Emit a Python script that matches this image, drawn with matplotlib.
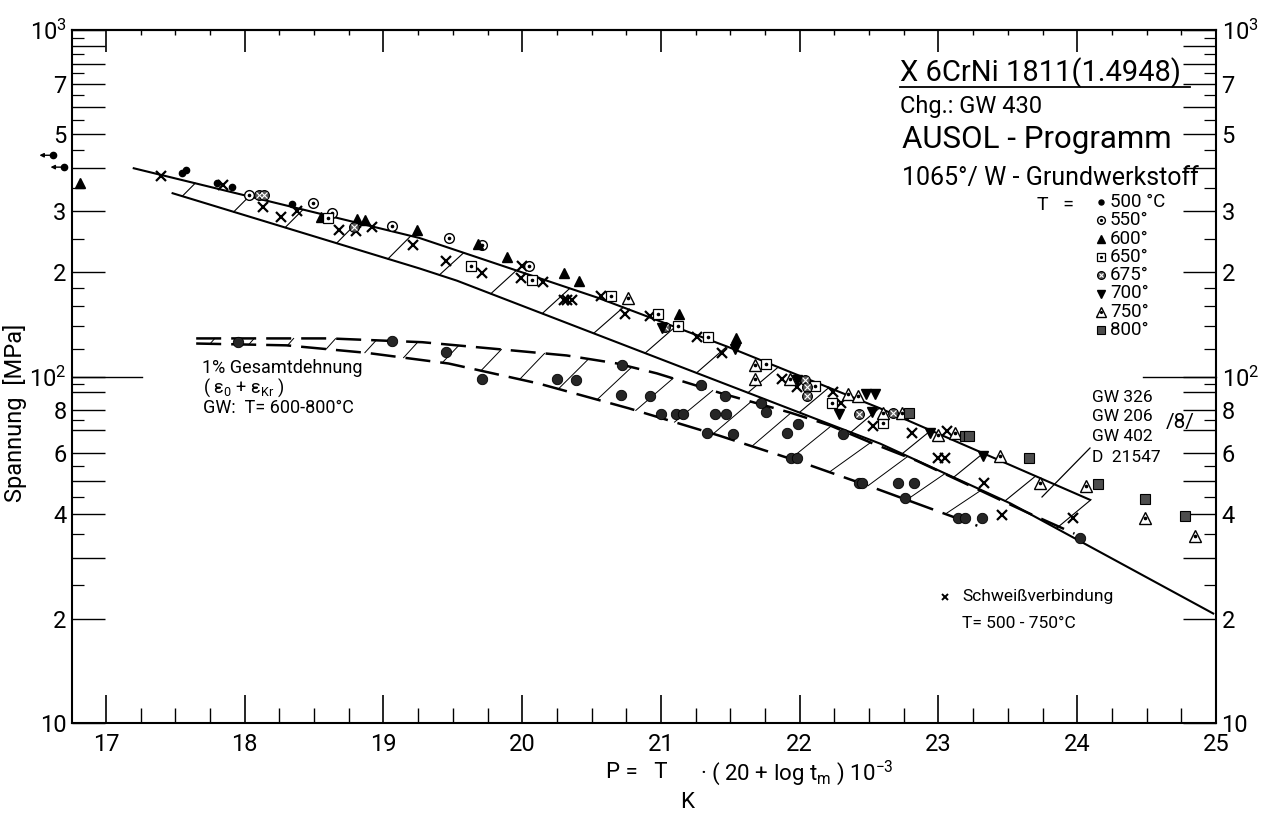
import numpy as np
import matplotlib
matplotlib.use("Agg")
import matplotlib.pyplot as plt
from matplotlib.lines import Line2D
from matplotlib.ticker import NullFormatter

plt.rcParams['font.family'] = ['Roboto', 'DejaVu Sans']

# --- scatter band, base material (solid lines) ---
band_upper_P = [17.20, 19.26, 20.54, 21.50, 22.58, 24.09]
band_upper_S = [399, 251, 169, 121, 80.9, 44.1]
band_lower_P = [17.48, 19.26, 19.53, 22.58, 23.52, 24.98]
band_lower_S = [338, 205, 189, 64.0, 43.0, 20.7]

# --- 1% total strain band (dashed lines) ---
strain_upper_P = [17.65, 18.61, 19.28, 19.93, 20.32, 20.68, 20.97, 21.44, 21.93, 22.22, 22.53, 22.84, 23.64, 23.98]
strain_upper_S = [128.8, 128.8, 125.6, 118.9, 115.0, 109.1, 102.1, 89.3, 78.7, 72.2, 64.0, 57.2, 40.5, 35.2]
strain_lower_P = [17.65, 18.30, 18.88, 19.47, 20.12, 20.77, 21.42, 22.02, 22.53, 23.28]
strain_lower_S = [124.5, 123, 117, 109, 95.4, 80.9, 67.5, 56.4, 47.8, 37.1]

# --- rupture data, base material, by temperature ---
t500_P = [17.55, 17.58, 17.80, 17.91, 18.34]
t500_S = [386, 394, 361, 352, 314]
t500_runout_P = [16.62, 16.70]
t500_runout_S = [435, 402]
t550_P = [18.03, 18.49, 18.63, 19.06, 19.47, 19.71, 20.05]
t550_S = [334, 316, 296, 272, 251, 239, 208]
t600_P = [16.81, 18.55, 18.81, 18.87, 19.24, 19.68, 19.89, 20.30, 20.41, 21.13, 21.54]
t600_S = [361, 288, 284, 282, 264, 241, 221, 199, 189, 151, 129]
t650_P = [18.60, 19.63, 20.07, 20.64, 20.98, 21.12, 21.34, 21.76, 22.11, 22.23, 22.60]
t650_S = [286, 209, 190, 171, 151, 140, 130, 109, 94, 83.6, 73.6]
t675_P = [18.10, 18.14, 18.79, 21.03, 22.04, 22.05, 22.05, 22.43, 22.67]
t675_S = [334, 334, 270, 139, 98, 93, 88, 78, 78.7]
t700_P = [21.01, 21.53, 21.98, 22.28, 22.48, 22.54, 22.52, 22.94, 23.32]
t700_S = [138, 120, 98, 78, 89, 89, 79, 68.9, 59.1]
t750_P = [20.76, 21.68, 21.68, 21.93, 22.35, 22.42, 22.60, 22.74, 23.00, 23.12, 23.44, 23.73, 24.06, 24.49, 24.85]
t750_S = [169, 108, 98.6, 98.6, 89, 88, 78.7, 78.7, 67.9, 68.9, 59.1, 49.4, 48.4, 39.1, 34.7]
t800_P = [22.79, 23.19, 23.22, 23.65, 24.15, 24.49, 24.78]
t800_S = [78.7, 67.5, 67.5, 58.0, 49.1, 44.4, 39.7]

# --- welded joints ---
weld_P = [17.40, 17.84, 18.13, 18.26, 18.38, 18.68, 18.80, 18.92, 19.21, 19.45, 19.71, 20.00,
          19.99, 20.15, 20.30, 20.32, 20.36, 20.57, 20.74, 20.92, 21.26, 21.44, 21.87, 21.98,
          22.24, 22.30, 22.53, 22.81, 23.06, 23.00, 23.05, 23.33, 23.46, 23.97]
weld_S = [378, 356, 308, 288, 300, 264, 263, 270, 239, 216, 199, 209,
          192, 187, 166, 166, 166, 171, 151, 149, 130, 117, 98.6, 93,
          90, 83.6, 72, 68.5, 69.4, 58.3, 58.3, 49.4, 39.9, 39.1]

# --- 1% total strain data, 600-800 C ---
strain_P = [17.95, 19.06, 19.45, 19.71, 20.25, 20.39, 20.72, 20.71, 20.92, 21.00, 21.11, 21.16,
            21.29, 21.46, 21.33, 21.39, 21.47, 21.52, 21.72, 21.76, 21.91, 21.99, 21.94, 21.98,
            22.31, 22.43, 22.45, 22.71, 22.82, 22.76, 23.14, 23.19, 23.31, 24.02]
strain_S = [126, 127, 118, 98.6, 98.6, 98, 108, 88.7, 88, 78, 78, 78,
            94.2, 88, 68.9, 78, 78, 68.4, 84.1, 79.2, 68.9, 73.1, 58.3, 58.3,
            68.4, 49.4, 49.4, 49.4, 49.4, 44.7, 39.1, 39.1, 39.1, 34.3]

legend_labels = ['500 °C', '550°', '600°', '650°', '675°', '700°', '750°', '800°']

y_long = [10, 20, 30, 40, 50, 60, 70, 80, 90, 100, 200, 300, 400, 500, 600, 700, 800, 900, 1000]
y_short = [25, 35, 45, 55, 75, 95, 120, 140, 160, 180, 250, 350, 450, 550, 650, 750, 850, 950]
y_names = {10: '10', 20: '2', 40: '4', 60: '6', 80: '8', 100: r'$\mathregular{10^2}$',
           200: '2', 300: '3', 500: '5', 700: '7', 1000: r'$\mathregular{10^3}$'}
x_major = list(range(17, 26))
x_minor = [v for v in np.arange(17.0, 25.0, 0.25) if v % 1 != 0]

dot = dict(marker='o', ms=1.6, mfc='k', mec='k', ls='none')
styles = {
    '500': [dict(marker='o', ms=4.5, mfc='k', mec='k')],
    '550': [dict(marker='o', ms=7, mfc='white', mec='k', mew=1.0), dot],
    '600': [dict(marker='^', ms=7.5, mfc='k', mec='k')],
    '650': [dict(marker='s', ms=7, mfc='white', mec='k', mew=0.9), dot],
    '675': [dict(marker='o', ms=7, mfc='0.35', mec='k', mew=0.9),
            dict(marker='x', ms=4, mec='white', mew=0.8)],
    '700': [dict(marker='v', ms=7.5, mfc='k', mec='k')],
    '750': [dict(marker='^', ms=8.5, mfc='white', mec='k', mew=1.0), dot],
    '800': [dict(marker='s', ms=6.5, mfc='0.3', mec='k', mew=0.8)],
    'weld': [dict(marker='x', ms=7.5, mec='k', mew=1.6)],
    'strain': [dict(marker='o', ms=7.5, mfc='0.15', mec='k', mew=0.6)],
}


def draw(xs, ys, kind, **kw):
    for st in styles[kind]:
        st = dict(st)
        st.setdefault('ls', 'none')
        ax.plot(xs, ys, **st, **kw)


def logline(P, S, x):
    return 10 ** np.interp(x, P, np.log10(S))


def hatch(loP, loS, hiP, hiS, starts, k, lw):
    for x0 in starts:
        ylo = logline(loP, loS, x0)
        gap = np.log10(logline(hiP, hiS, x0)) - np.log10(ylo)
        x1 = x0 + k * gap
        ax.plot([x0, x1], [ylo, logline(hiP, hiS, x1)], color='k', lw=lw)


def fxy(x, y):
    return x / 1264, 1 - y / 817


fig = plt.figure(figsize=(12.64, 8.17), dpi=100)
ax = fig.add_axes([72 / 1264, 94 / 817, 1144 / 1264, 693 / 817])
ax.set_yscale('log')
ax.set_xlim(16.755, 25)
ax.set_ylim(10, 1000)
for s in ax.spines.values():
    s.set_linewidth(1.5)

# band lines
ax.plot(band_upper_P, band_upper_S, color='k', lw=1.5)
ax.plot(band_lower_P, band_lower_S, color='k', lw=1.5)
hatch(band_lower_P, band_lower_S, band_upper_P, band_upper_S,
      np.linspace(17.55, 23.85, 18), 2.0, 0.8)
ax.plot(strain_upper_P, strain_upper_S, color='k', lw=1.8, dashes=(10, 4))
ax.plot(strain_lower_P, strain_lower_S, color='k', lw=1.8, dashes=(10, 4))
hatch(strain_lower_P, strain_lower_S, strain_upper_P, strain_upper_S,
      np.linspace(17.75, 23.05, 20), 2.2, 0.7)

# data points
draw(strain_P, strain_S, 'strain')
draw(weld_P, weld_S, 'weld')
draw(t500_P, t500_S, '500')
draw(t500_runout_P, t500_runout_S, '500', clip_on=False)
for p, s in zip(t500_runout_P, t500_runout_S):
    ax.annotate('', xy=(p - 0.1, s), xytext=(p, s), annotation_clip=False,
                arrowprops=dict(arrowstyle='-|>', color='k', lw=1, mutation_scale=6,
                                shrinkA=0, shrinkB=0))
draw(t550_P, t550_S, '550')
draw(t600_P, t600_S, '600', clip_on=False)
draw(t650_P, t650_S, '650')
draw(t675_P, t675_S, '675')
draw(t700_P, t700_S, '700')
draw(t750_P, t750_S, '750')
draw(t800_P, t800_S, '800')

# axis ticks
ax.set_yticks(y_long)
ax.set_yticklabels([y_names.get(v, '') for v in y_long])
ax.set_yticks(y_short, minor=True)
ax.yaxis.set_minor_formatter(NullFormatter())
ax.tick_params(axis='y', which='major', direction='in', length=24, width=1,
               left=True, right=True, labelleft=True, labelright=True, labelsize=17, pad=4)
ax.tick_params(axis='y', which='minor', direction='in', length=8.5, width=0.9,
               left=True, right=True)
ax.plot([0, 0.061], [100, 100], transform=ax.get_yaxis_transform(), color='k', lw=1, clip_on=False)
ax.plot([0.936, 1], [100, 100], transform=ax.get_yaxis_transform(), color='k', lw=1, clip_on=False)

ax.set_xticks(x_major)
ax.set_xticks(x_minor, minor=True)
ax.tick_params(axis='x', which='major', direction='in', length=20, width=1.2,
               top=False, labelsize=17, pad=7)
ax.tick_params(axis='x', which='minor', direction='in', length=11, width=1, top=False)
sec = ax.secondary_xaxis('top')
sec.set_xticks(x_major)
sec.set_xticks(x_minor, minor=True)
sec.xaxis.set_major_formatter(NullFormatter())
sec.tick_params(which='major', direction='in', length=16, width=1.2)
sec.tick_params(which='minor', direction='in', length=3.5, width=1)
sec.spines['top'].set_linewidth(1.5)

# axis titles
fig.text(*fxy(15, 413), 'Spannung  [MPa]', rotation=90, ha='center', va='center', fontsize=17)
fig.text(*fxy(606, 773), 'P =   T', ha='left', va='center', fontsize=16)
fig.text(*fxy(680, 803), 'K', ha='left', va='center', fontsize=16)
fig.text(*fxy(700, 773), r'· ( 20 + log t$_{\mathregular{m}}$ ) 10$^{\mathregular{-3}}$',
         ha='left', va='center', fontsize=16)

# header block
fig.text(*fxy(900, 73), 'X 6CrNi 1811(1.4948)', ha='left', va='center', fontsize=21)
fig.add_artist(Line2D([900 / 1264, 1190 / 1264], [1 - 87 / 817] * 2, color='k', lw=1.3))
fig.text(*fxy(900, 107), 'Chg.: GW 430', ha='left', va='center', fontsize=17)
fig.text(*fxy(902, 140), 'AUSOL - Programm', ha='left', va='center', fontsize=22.5)
fig.text(*fxy(902, 178), '1065°/ W - Grundwerkstoff', ha='left', va='center', fontsize=18)
fig.text(*fxy(1037, 205), 'T   =', ha='left', va='center', fontsize=14)
for i, (kind, lab) in enumerate(zip(['500', '550', '600', '650', '675', '700', '750', '800'],
                                    legend_labels)):
    mx, my = fxy(1101, 202 + 18.3 * i)
    for st in styles[kind]:
        st = dict(st)
        st.setdefault('ls', 'none')
        st['ms'] = st['ms'] * 0.8
        ax.plot([mx], [my], transform=fig.transFigure, clip_on=False, **st)
    fig.text(*fxy(1110, 202 + 18.3 * i), lab, ha='left', va='center', fontsize=13.5)

# annotations in the plot
fig.text(*fxy(202, 368), '1% Gesamtdehnung', ha='left', va='center', fontsize=13)
fig.text(*fxy(203, 388), r'( ε$_{\mathregular{0}}$ + ε$_{\mathregular{Kr}}$ )', ha='left', va='center', fontsize=13)
fig.text(*fxy(203, 408), 'GW:  T= 600-800°C', ha='left', va='center', fontsize=13)
for i, lab in enumerate(['GW 326', 'GW 206', 'GW 402', 'D  21547']):
    fig.text(*fxy(1092, 397 + 20 * i), lab, ha='left', va='center', fontsize=12.5)
fig.text(*fxy(1166, 422), '/8/', ha='left', va='center', fontsize=15)
fig.add_artist(Line2D([1090 / 1264, 1042 / 1264], [1 - 448 / 817, 1 - 497 / 817], color='k', lw=0.9))
mx, my = fxy(945, 597)
ax.plot([mx], [my], transform=fig.transFigure, clip_on=False, marker='x', ms=5, mec='k', mew=1.4)
fig.text(*fxy(962, 597), 'Schweißverbindung', ha='left', va='center', fontsize=12.5)
fig.text(*fxy(962, 623), 'T= 500 - 750°C', ha='left', va='center', fontsize=12.5)

fig.savefig('out.png', dpi=100)
